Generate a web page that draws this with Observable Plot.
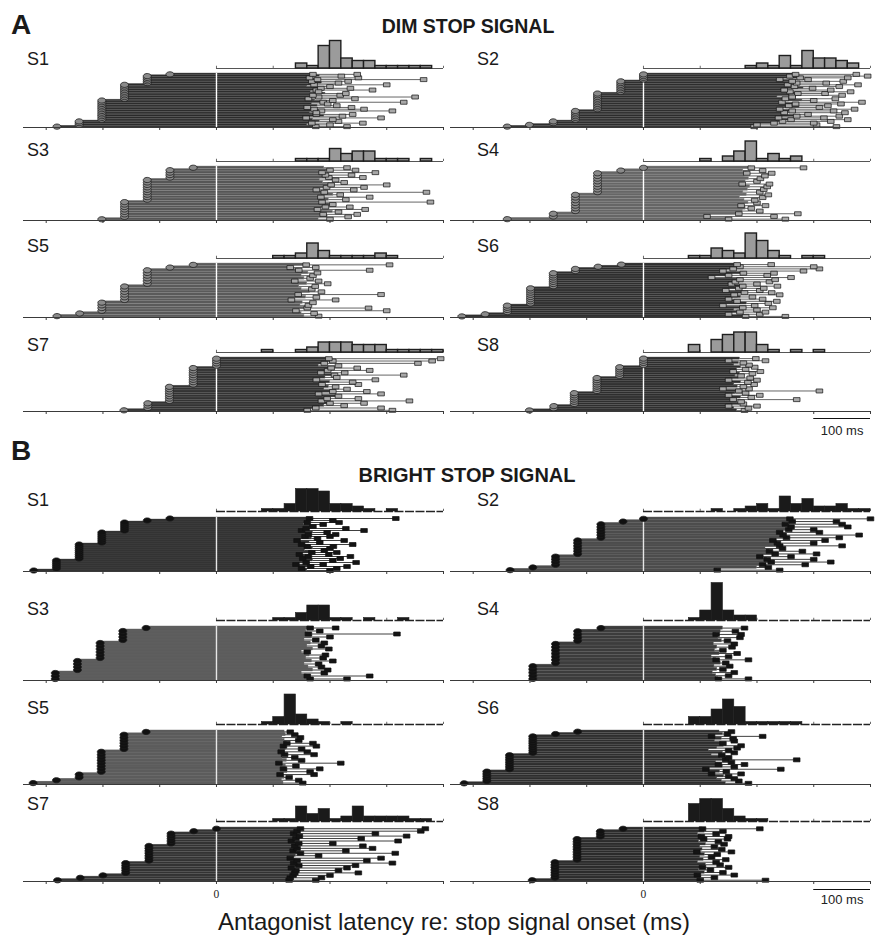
<!DOCTYPE html>
<html><head><meta charset="utf-8">
<script src="https://cdn.jsdelivr.net/npm/d3@7"></script>
<script src="https://cdn.jsdelivr.net/npm/@observablehq/plot@0.6"></script>
<style>
body{margin:0;background:#fff;}
#fig{position:relative;width:883px;height:935px;overflow:hidden;background:#fff;}
#fig svg{position:absolute;overflow:visible;}
</style></head><body><div id="fig"></div>
<script>
// ---------------- DATA ----------------
const subjects = ["S1","S2","S3","S4","S5","S6","S7","S8"];
const axisTicks = [-300,-200,-100,0,100,200,300,400];
const histTicks = [0,100,200,300,400];
const binStarts = [0,20,40,60,80,100,120,140,160,180,200,220,240,260,280,300,320,340,360,380];

// DIM stop signal: go-signal levels (ms re: stop signal), trials per level (bottom -> top)
const dimSsd = [
  [-281,-242,-202,-162,-122,-82],
  [-240,-201,-159,-120,-81,-40,0],
  [-202,-162,-122,-82,-41],
  [-240,-159,-120,-81,-40,0],
  [-281,-241,-202,-162,-122,-82,-41],
  [-320,-279,-240,-199,-159,-120,-80,-39],
  [-163,-121,-83,-41,0],
  [-201,-158,-122,-82,-42,0]
];
const dimCounts = [
  [1,3,12,9,5,1],
  [1,1,2,6,10,7,4],
  [1,7,9,4,1],
  [1,2,7,8,1,1],
  [1,1,4,6,6,1,1],
  [1,1,4,8,7,2,1,1],
  [1,3,7,8,4],
  [1,2,6,7,5,4]
];
// end of thick bar (ms) per trial, bottom -> top
const dimOnset = [
  [175,160,168,182,170,158,190,176,165,185,172,160,178,168,188,174,162,180,170,192,166,176,184,160,172,186,168,178,164,182,170],
  [195,200,230,245,260,238,270,252,248,262,240,275,256,268,244,280,250,236,262,272,258,248,282,266,254,270,262,240,276,258,268],
  [180,196,188,205,178,192,200,186,198,184,206,190,176,194,202,188,182,198,192,186,200,190],
  [150,112,168,175,180,172,185,178,170,182,176,184,188,174,180,186,178,182,176,190],
  [155,150,140,160,148,152,132,158,144,165,150,146,160,138,155,150,162,145,130,158],
  [180,150,170,160,175,140,182,165,150,172,160,178,145,168,175,155,162,170,120,150,176,140,158,170,165],
  [160,175,190,200,185,195,210,180,205,190,198,186,200,176,192,208,184,196,202,180,190,205,198],
  [165,160,150,170,165,158,172,150,162,168,140,166,160,172,150,168,162,170,158,165,172,160,168,150,170]
];
// antagonist latency (square marker, ms) per trial, bottom -> top
const dimOffset = [
  [230,200,258,215,205,290,222,240,176,310,260,238,212,196,330,205,244,350,218,228,180,275,236,200,300,215,232,365,250,220,248],
  [340,305,300,330,360,318,345,290,355,335,372,310,325,348,385,300,338,262,350,320,365,330,298,345,378,322,352,290,360,395,375],
  [200,232,248,215,262,235,205,377,228,270,218,370,242,260,300,225,210,258,238,280,245,230],
  [250,230,272,205,190,215,200,196,210,220,205,212,218,222,200,206,214,226,210,282],
  [180,172,300,268,162,170,210,176,290,185,168,174,196,180,165,170,178,270,175,305],
  [250,205,215,200,228,196,220,235,210,192,240,226,205,212,236,200,222,232,260,218,230,282,310,300,225],
  [310,290,225,260,340,250,215,290,265,230,210,250,240,280,212,330,226,270,248,215,355,380,395],
  [178,185,200,176,172,270,190,205,180,310,186,176,195,184,200,188,172,192,206,180,196,186,176,215,198]
];
// histogram counts, 20 ms bins from 0 to 400 ms
const dimHist = [
  [0,0,0,0,0,0,0,2,1,9,11,4,3,3,1,1,1,1,1,0],
  [0,0,0,0,0,0,0,0,0,1,2,1,5,1,7,4,4,3,2,0],
  [0,0,0,0,0,0,0,1,1,1,5,3,4,4,1,1,1,0,1,0],
  [0,0,0,0,0,1,0,2,4,8,1,3,1,2,0,0,0,0,0,0],
  [0,0,0,0,0,1,1,2,6,3,1,1,1,1,2,1,0,0,0,0],
  [0,0,0,0,1,1,4,3,2,10,7,3,1,0,1,1,0,0,0,0],
  [0,0,0,0,1,0,0,1,2,4,4,4,3,3,3,1,1,1,1,1],
  [0,0,0,0,3,0,5,7,8,8,3,1,0,1,0,1,0,0,0,0]
];

// BRIGHT stop signal
const brightSsd = [
  [-322,-282,-242,-202,-162,-122,-82],
  [-235,-195,-155,-116,-75,-36,0],
  [-284,-245,-205,-165,-124],
  [-195,-155,-116,-75],
  [-323,-282,-242,-203,-163,-124],
  [-316,-276,-236,-195,-155,-116],
  [-280,-240,-200,-160,-119,-80,-40,0],
  [-196,-156,-117,-76,-36]
];
const brightCounts = [
  [1,5,8,6,5,1,1],
  [1,1,4,6,6,1,1],
  [3,4,6,4,1],
  [5,7,4,1],
  [1,1,2,8,6,1],
  [1,5,7,8,1,1],
  [1,1,1,5,7,5,1,1],
  [1,7,9,3,1]
];
const brightOnset = [
  [160,150,166,140,158,170,152,162,146,168,156,170,160,150,164,142,168,156,162,170,150,158,166,154,160,170,164],
  [130,200,210,225,218,205,232,222,215,240,236,228,252,246,240,256,260,250,262,258],
  [165,160,150,170,162,155,168,158,164,150,170,160,166,155,168,162,158,165],
  [132,128,122,130,125,136,128,120,134,126,130,124,138,132,128,136,140],
  [118,115,120,112,125,118,122,110,124,116,120,114,122,118,124,120,116,122,120],
  [145,138,130,142,120,135,110,140,132,128,145,136,120,140,115,130,142,136,126,138,120,140,134],
  [128,130,135,138,140,132,145,136,142,130,140,148,135,142,138,145,132,140,146,136,142,148],
  [100,102,95,108,98,104,110,96,106,100,108,94,104,100,110,98,106,102,96,108,104]
];
const brightOffset = [
  [200,212,230,188,246,205,218,236,198,212,190,200,206,240,182,225,178,200,210,195,260,228,170,188,216,205,316],
  [240,220,285,330,300,260,305,280,245,350,300,320,345,380,310,300,360,350,340,400],
  [230,270,190,196,185,180,205,188,192,160,198,185,190,175,200,318,182,210],
  [185,150,160,140,152,145,185,150,165,140,156,160,148,170,172,162,178],
  [152,145,128,172,165,182,140,219,150,138,172,160,150,176,170,145,148,138,130],
  [185,168,160,150,172,146,242,160,178,155,270,150,138,160,150,165,172,140,160,158,210,148,155],
  [175,185,200,250,215,230,245,310,265,290,180,315,228,275,258,205,320,255,335,280,360,368],
  [215,125,160,140,118,150,135,128,145,120,130,155,138,125,142,132,148,150,128,140,205]
];
const brightHist = [
  [0,0,0,0,1,1,3,9,9,8,3,3,2,1,0,1,0,0,0,0],
  [0,0,0,0,0,0,1,0,1,2,3,1,6,3,5,2,2,3,1,1],
  [0,0,0,0,0,1,1,3,6,6,1,1,0,1,0,0,1,0,0,0],
  [0,0,0,0,1,4,15,4,2,2,0,0,0,0,0,0,0,0,0,0],
  [0,0,0,0,1,3,12,4,2,1,0,1,0,0,0,0,0,0,0,0],
  [0,0,0,0,3,3,6,10,7,1,1,1,1,1,0,0,0,0,0,0],
  [0,0,0,0,0,1,1,6,3,5,1,2,6,2,2,2,2,1,1,0],
  [0,0,0,0,7,9,9,5,2,1,1,0,0,0,0,0,0,0,0,0]
];

// ---------------- STYLE / LAYOUT ----------------
const SANS = "'Liberation Sans', Arial, Helvetica, sans-serif";
const dimBarFill = ["#2c2c2c","#2e2e2e","#565656","#666666","#5a5a5a","#2e2e2e","#333333","#2e2e2e"];
const brightBarFill = ["#2a2a2a","#4c4c4c","#5e5e5e","#3c3c3c","#5c5c5c","#2e2e2e","#333333","#2b2b2b"];
const dimBase = [127, 220, 317, 411];
const brightBase = [571, 680, 784, 881];
const dimLabelY = [65, 156, 252, 351];
const brightLabelY = [506, 615, 714, 810];

const boxSym = {draw(ctx){ const w=3.3, h=2.0; ctx.moveTo(-w,-h); ctx.lineTo(w,-h); ctx.lineTo(w,h); ctx.lineTo(-w,h); ctx.closePath(); }};
const ellSym = {draw(ctx){ const rx=4, ry=2.6, n=20; for(let j=0;j<n;j++){const t=2*Math.PI*j/n; const x=rx*Math.cos(t), y=ry*Math.sin(t); if(j===0) ctx.moveTo(x,y); else ctx.lineTo(x,y);} ctx.closePath(); }};

const fig = document.getElementById("fig");
const noBg = {background: "transparent", overflow: "visible"};

function place(svg, left, top) {
  svg.style.position = "absolute";
  svg.style.left = left + "px";
  svg.style.top = top + "px";
  fig.appendChild(svg);
}

function drawPanel(isDim, k) {
  const ssd = (isDim ? dimSsd : brightSsd)[k];
  const counts = (isDim ? dimCounts : brightCounts)[k];
  const onset = (isDim ? dimOnset : brightOnset)[k];
  const offset = (isDim ? dimOffset : brightOffset)[k];
  const hist = (isDim ? dimHist : brightHist)[k];
  const trials = [];
  let i = 0;
  ssd.forEach((s, j) => {
    for (let c = 0; c < counts[j]; c++) { trials.push({i, start: s, a: onset[i], b: offset[i]}); i++; }
  });
  const N = trials.length;
  const col = k % 2, row = Math.floor(k / 2);
  const base = (isDim ? dimBase : brightBase)[row];
  const left = col * 427;
  const histOff = isDim ? 59 : 60;

  // histogram
  const bins = binStarts.map((x0, j) => ({x0, x1: x0 + 20, n: hist[j]})).filter(d => d.n > 0);
  const hp = Plot.plot({
    width: 445, height: 44, marginLeft: 23, marginRight: 2, marginTop: 2, marginBottom: 2,
    x: {domain: [-340, 400], axis: null}, y: {domain: [0, 16], axis: null},
    style: noBg,
    marks: [
      Plot.ruleY([0], {x1: 0, x2: 400, stroke: isDim ? "#555" : "#222", strokeWidth: isDim ? 1 : 1.4, strokeDasharray: isDim ? null : "9,1.5"}),
      Plot.ruleX(histTicks, {y1: 0, y2: 0.9, stroke: "#444", strokeWidth: 0.8}),
      Plot.rect(bins, {x1: "x0", x2: "x1", y1: 0, y2: "n", fill: isDim ? "#9b9b9b" : "#1a1a1a", stroke: "#1e1e1e", strokeWidth: isDim ? 1.4 : 0.6})
    ]
  });
  place(hp, left, base - histOff - 42);

  // trial raster
  const last = row === 3;
  const scaleBar = last && col === 1;
  const H = last ? (scaleBar ? 100 : 86) : 66;
  const sqFill = isDim ? "#a8a8a8" : "#141414";
  const marks = [
    Plot.rect(trials, {x1: "start", x2: "a", y1: "i", y2: d => d.i + 1,
      fill: (isDim ? dimBarFill : brightBarFill)[k], stroke: isDim && [2,3,4].includes(k) ? "#8c8c8c" : "#5a5a5a", strokeWidth: 0.4}),
    Plot.ruleY(trials, {y: d => d.i + 0.5, x1: "a", x2: "b", stroke: isDim ? "#555" : "#2a2a2a", strokeWidth: 0.9}),
    Plot.ruleX([0], {y1: 0, y2: N, stroke: isDim ? "#ffffff" : "#e6e6e6", strokeWidth: 1.4}),
    Plot.dot(trials.filter(d => d.b - d.a > 40), {x: "a", y: d => d.i + 0.5, symbol: boxSym, r: 3, fill: sqFill, stroke: "#111", strokeWidth: 0.7}),
    Plot.dot(trials, {x: "b", y: d => d.i + 0.5, symbol: boxSym, r: 3, fill: sqFill, stroke: "#111", strokeWidth: 0.7}),
    Plot.dot(trials, {x: "start", y: d => d.i + 0.5, symbol: ellSym, r: 3, fill: isDim ? "#8a8a8a" : "#111", stroke: "#1a1a1a", strokeWidth: 0.8}),
    Plot.ruleY([0], {stroke: "#3a3a3a", strokeWidth: 1.1}),
    Plot.axisX({ticks: axisTicks, tickSize: 3, tickPadding: 5, stroke: "#3a3a3a",
      tickFormat: d => (last && !isDim && d === 0) ? "0" : "",
      fontFamily: "'Liberation Serif', 'Times New Roman', serif", fontSize: 11.5, fill: "#222"})
  ];
  if (scaleBar) {
    marks.push(Plot.ruleY([0], {x1: 300, x2: 400, dy: isDim ? 7 : 8, stroke: "#111", strokeWidth: 1.2}));
    marks.push(Plot.text(["100 ms"], {x: 350, y: 0, dy: isDim ? 19 : 18, fontFamily: SANS, fontSize: 13, fill: "#222"}));
  }
  const tp = Plot.plot({
    width: 445, height: H, marginLeft: 23, marginRight: 2, marginTop: 5, marginBottom: H - 59,
    x: {domain: [-340, 400]}, y: {domain: [0, N], axis: null},
    style: noBg,
    marks
  });
  place(tp, left, base - 59);
}

for (let k = 0; k < 8; k++) { drawPanel(true, k); drawPanel(false, k); }

// text overlay
const ov = d3.create("svg").attr("width", 883).attr("height", 935)
  .style("left", "0px").style("top", "0px").style("pointer-events", "none")
  .attr("font-family", SANS).attr("fill", "#1a1a1a");
ov.append("text").attr("x", 11).attr("y", 34).attr("font-size", 28).attr("font-weight", "bold").text("A");
ov.append("text").attr("x", 468).attr("y", 33).attr("text-anchor", "middle").attr("font-size", 19.5).attr("font-weight", "bold").text("DIM STOP SIGNAL");
ov.append("text").attr("x", 11).attr("y", 460).attr("font-size", 28).attr("font-weight", "bold").text("B");
ov.append("text").attr("x", 467).attr("y", 482).attr("text-anchor", "middle").attr("font-size", 20).attr("font-weight", "bold").text("BRIGHT STOP SIGNAL");
subjects.forEach((s, k) => {
  const col = k % 2, row = Math.floor(k / 2);
  const x = col ? 477 : 27;
  ov.append("text").attr("x", x).attr("y", dimLabelY[row]).attr("font-size", 18).text(s);
  ov.append("text").attr("x", x).attr("y", brightLabelY[row]).attr("font-size", 18).text(s);
});
ov.append("text").attr("x", 454).attr("y", 930).attr("text-anchor", "middle").attr("font-size", 24).text("Antagonist latency re: stop signal onset (ms)");
fig.appendChild(ov.node());
</script></body></html>
